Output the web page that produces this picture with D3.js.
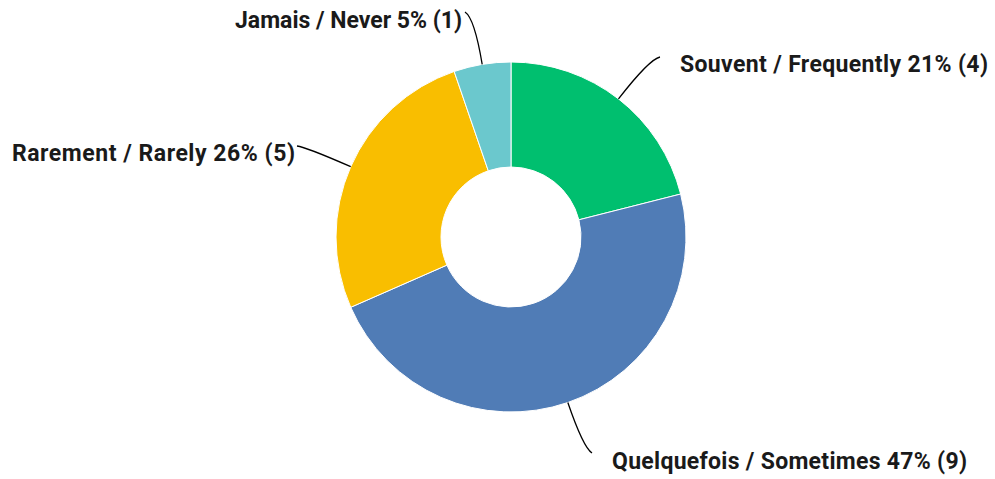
<!DOCTYPE html>
<html><head><meta charset="utf-8">
<script src="https://cdn.jsdelivr.net/npm/d3@7"></script>
<style>body{margin:0;background:#fff}svg{display:block}</style>
</head><body>
<svg id="c" width="995" height="479"></svg>
<script>
const categories = ["Souvent / Frequently", "Quelquefois / Sometimes", "Rarement / Rarely", "Jamais / Never"];
const counts = [4, 9, 5, 1];
const percents = ["21%", "47%", "26%", "5%"];
const colors = ["#00BF6F", "#507CB6", "#F9BE00", "#6BC8CD"];

const svg = d3.select("#c");
const cx = 511, cy = 237, rOuter = 175, rInner = 70;
const g = svg.append("g").attr("transform", `translate(${cx},${cy})`);
const pie = d3.pie().sort(null).value(d => d)(counts);
const arc = d3.arc().innerRadius(rInner).outerRadius(rOuter);
g.selectAll("path.s").data(pie).join("path").attr("class","s")
  .attr("d", arc).attr("fill", (d,i)=>colors[i]).attr("stroke","#fff").attr("stroke-width",1);

const labelSpec = [
  {lx: 660, ly: 57, tx: 680, ty: 72, w: 308, anchor: "start"},
  {lx: 592, ly: 453, tx: 612, ty: 469, w: 355, anchor: "start"},
  {lx: 297, ly: 146, tx: 295, ty: 161, w: 283, anchor: "end"},
  {lx: 465, ly: 12, tx: 462, ty: 28, w: 227, anchor: "end"}
];
const outerArc = d3.arc().innerRadius(rOuter).outerRadius(rOuter);
pie.forEach((d,i)=>{
  const [px,py] = outerArc.centroid(d);
  const sx = cx+px, sy = cy+py;
  const s = labelSpec[i];
  const a = (d.startAngle+d.endAngle)/2;
  const dist = Math.hypot(s.lx-sx, s.ly-sy);
  const kx = sx + Math.sin(a)*dist*0.85, ky = sy - Math.cos(a)*dist*0.85;
  svg.append("path")
    .attr("d", `M${sx},${sy} Q${kx},${ky} ${s.lx},${s.ly}`)
    .attr("fill","none").attr("stroke","#000").attr("stroke-width",1.3);
  const t = svg.append("text").attr("y", s.ty)
    .attr("font-family","Roboto, sans-serif").attr("font-weight",700).attr("font-size",23)
    .attr("fill","#1a1a1a")
    .text(`${categories[i]} ${percents[i]} (${counts[i]})`);
  const natural = t.node().getComputedTextLength();
  t.attr("textLength", s.w).attr("lengthAdjust", natural > s.w ? "spacingAndGlyphs" : "spacing")
   .attr("x", s.anchor === "end" ? s.tx - s.w : s.tx);
});
</script>
</body></html>
